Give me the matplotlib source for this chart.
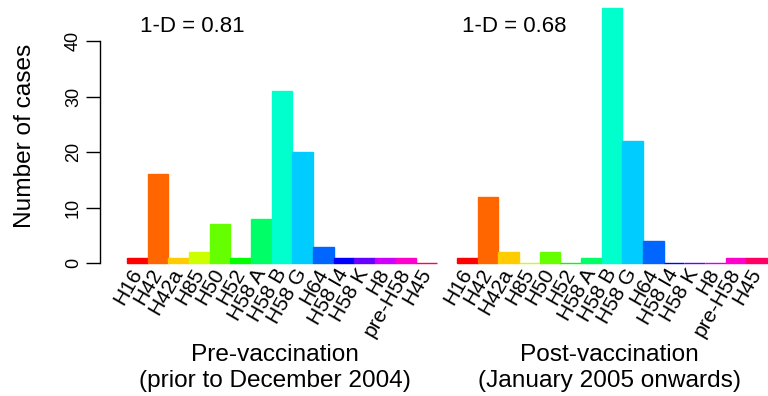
import numpy as np
import matplotlib
matplotlib.use("Agg")
import matplotlib.pyplot as plt
from matplotlib.colors import hsv_to_rgb

plt.rcParams['font.family'] = ['Liberation Sans', 'DejaVu Sans']

### Data ########################################################################
serotypes = ['H16', 'H42', 'H42a', 'H85', 'H50', 'H52', 'H58 A', 'H58 B',
             'H58 G', 'H64', 'H58 I4', 'H58 K', 'H8', 'pre-H58', 'H45']
pre_cases = [1, 16, 1, 2, 7, 1, 8, 31, 20, 3, 1, 1, 1, 1, 0]
post_cases = [1, 12, 2, 0, 2, 0, 1, 46, 22, 4, 0, 0, 0, 1, 1]
diversity = ['1-D = 0.81', '1-D = 0.68']
periods = ['Pre-vaccination\n(prior to December 2004)',
           'Post-vaccination\n(January 2005 onwards)']

# R's rainbow(15)
n = len(serotypes)
colors = [hsv_to_rgb((i / n, 1, 1)) for i in range(n)]

### Figure ######################################################################
W, H = 768, 396
fig = plt.figure(figsize=(W / 100, H / 100), dpi=100)

def px_axes(x0, x1, y0, y1):
    # pixel box (top-left origin) -> figure fraction
    return fig.add_axes([x0 / W, 1 - y1 / H, (x1 - x0) / W, (y1 - y0) / H])

y_top = 7.6
y_zero = 263.3
panels = [(127, 437, pre_cases), (457, 767, post_cases)]
axes = []
for k, (x0, x1, vals) in enumerate(panels):
    ax = px_axes(x0, x1, y_top, y_zero)
    pos = np.arange(n) + 0.5
    bars = ax.bar(pos, vals, width=1.0, color=colors, edgecolor=colors,
                  linewidth=1.0)
    for b in bars:
        b.set_clip_on(False)
    ax.set_xlim(0, n)
    ax.set_ylim(0, 46)
    for s in ['top', 'right', 'bottom']:
        ax.spines[s].set_visible(False)
    ax.set_xticks(pos)
    ax.set_xticklabels(serotypes, fontsize=15)
    ax.tick_params(axis='x', length=0, pad=5)
    plt.setp(ax.get_xticklabels(), rotation=60, ha='right', va='center',
             rotation_mode='anchor')
    ax.patch.set_alpha(0)
    if k == 0:
        ax.spines['left'].set_position(('outward', 27 * 0.72))
        ax.spines['left'].set_bounds(0, 40)
        ax.spines['left'].set_linewidth(1.0)
        ax.set_yticks([0, 10, 20, 30, 40])
        ax.tick_params(axis='y', length=10, width=1.0, labelsize=13, pad=3)
        plt.setp(ax.get_yticklabels(), rotation=90, va='center')
        ax.set_ylabel('Number of cases', fontsize=17.6, labelpad=21)
    else:
        ax.spines['left'].set_visible(False)
        ax.set_yticks([])
    axes.append(ax)

fig.text(192 / W, 1 - 27 / H, diversity[0], fontsize=16, ha='center', va='center')
fig.text(514 / W, 1 - 27 / H, diversity[1], fontsize=16, ha='center', va='center')
fig.text(275 / W, 1 - 368 / H, periods[0], fontsize=17.6, ha='center', va='center',
         linespacing=1.2)
fig.text(609 / W, 1 - 368 / H, periods[1], fontsize=17.6, ha='center', va='center',
         linespacing=1.2)

fig.savefig('out.png', dpi=100)
